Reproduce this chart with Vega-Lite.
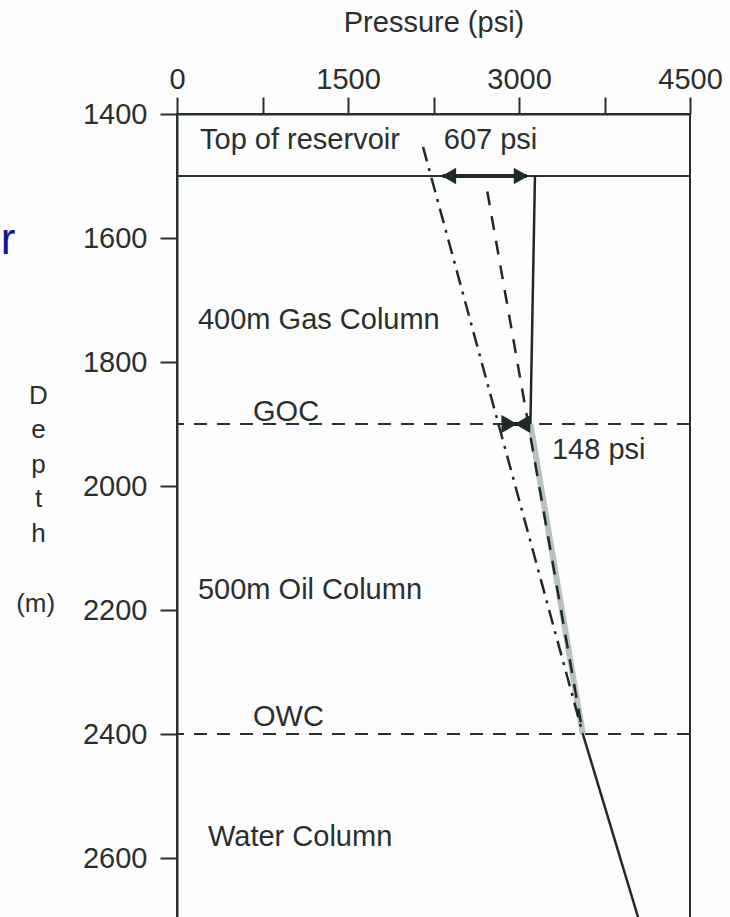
{
  "$schema": "https://vega.github.io/schema/vega-lite/v6.json",
  "autosize": {"type": "none"},
  "width": 513,
  "height": 806,
  "padding": {"left": 177, "top": 114, "right": 40, "bottom": 0},
  "background": "#fdfdfd",
  "config": {
    "font": "Liberation Sans",
    "view": {"stroke": "#26302e", "strokeWidth": 2},
    "axis": {"grid": false, "domainColor": "#26302e", "domainWidth": 2, "tickColor": "#26302e", "tickWidth": 2, "labelColor": "#2a2f2e", "titleColor": "#2a2f2e", "labelFontSize": 29, "titleFontSize": 29, "labelFont": "Liberation Sans", "titleFont": "Liberation Sans", "titleFontWeight": "normal", "labelFlush": false}
  },
  "datasets": {
    "profile": [
      {"seg": "gas", "pressure": 3140, "depth": 1500},
      {"seg": "gas", "pressure": 3100, "depth": 1900},
      {"seg": "water", "pressure": 3560, "depth": 2400},
      {"seg": "water", "pressure": 4052, "depth": 2700}
    ],
    "oil": [
      {"pressure": 3100, "depth": 1900},
      {"pressure": 3560, "depth": 2400}
    ],
    "oilext": [
      {"pressure": 2722, "depth": 1525},
      {"pressure": 3560, "depth": 2400}
    ],
    "waterext": [
      {"pressure": 2158, "depth": 1453},
      {"pressure": 3560, "depth": 2400}
    ],
    "contacts": [
      {"name": "GOC", "depth": 1900},
      {"name": "OWC", "depth": 2400}
    ],
    "arrows": [
      {"label": "607 psi", "p1": 2330, "p2": 3070, "depth": 1500},
      {"label": "148 psi", "p1": 2860, "p2": 3070, "depth": 1900}
    ],
    "heads": [
      {"pressure": 2385, "depth": 1500, "shape": "triangle-left", "sz": 280},
      {"pressure": 3018, "depth": 1500, "shape": "triangle-right", "sz": 280},
      {"pressure": 2915, "depth": 1900, "shape": "triangle-right", "sz": 330},
      {"pressure": 3030, "depth": 1900, "shape": "triangle-left", "sz": 330}
    ],
    "labels": [
      {"text": "Top of reservoir", "pressure": 202, "depth": 1442},
      {"text": "607 psi", "pressure": 2340, "depth": 1442},
      {"text": "400m Gas Column", "pressure": 184, "depth": 1732},
      {"text": "GOC", "pressure": 667, "depth": 1881},
      {"text": "148 psi", "pressure": 3289, "depth": 1942},
      {"text": "500m Oil Column", "pressure": 184, "depth": 2168},
      {"text": "OWC", "pressure": 667, "depth": 2373},
      {"text": "Water Column", "pressure": 272, "depth": 2566}
    ],
    "unit": [
      {"text": "(m)", "pressure": -1240, "depth": 2190}
    ],
    "stray": [
      {"text": "r", "pressure": -1545, "depth": 1605}
    ]
  },
  "layer": [
    {
      "data": {"values": [{"depth": 1500}]},
      "mark": {"type": "rule", "color": "#26302e", "strokeWidth": 2},
      "encoding": {
        "y": {"field": "depth", "type": "quantitative", "scale": {"domain": [1400, 2700], "reverse": true, "nice": false, "zero": false},
          "axis": {"orient": "left", "values": [1400, 1600, 1800, 2000, 2200, 2400, 2600], "format": "d", "tickSize": 17, "labelPadding": 13,
            "title": ["D", "e", "p", "t", "h"], "titleAngle": 0, "titleAlign": "center", "titleBaseline": "top", "titleLineHeight": 34.5, "titleFontSize": 26, "titleX": -139, "titleY": 268}}
      }
    },
    {
      "data": {"name": "contacts"},
      "mark": {"type": "rule", "color": "#26302e", "strokeWidth": 2, "strokeDash": [13, 10]},
      "encoding": {"y": {"field": "depth", "type": "quantitative"}}
    },
    {
      "data": {"name": "oil"},
      "mark": {"type": "line", "color": "#b9c1c3", "strokeWidth": 6},
      "encoding": {
        "x": {"field": "pressure", "type": "quantitative", "scale": {"domain": [0, 4500], "nice": false},
          "axis": {"orient": "top", "values": [0, 750, 1500, 2250, 3000, 3750, 4500], "labelExpr": "datum.value % 1500 === 0 ? datum.label : ''", "format": "d", "tickSize": 17, "labelPadding": 3, "title": "Pressure (psi)", "titleY": -83, "titleBaseline": "alphabetic"}},
        "y": {"field": "depth", "type": "quantitative"}
      }
    },
    {
      "data": {"name": "profile"},
      "mark": {"type": "line", "color": "#1f2a28", "strokeWidth": 2.5},
      "encoding": {
        "x": {"field": "pressure", "type": "quantitative"},
        "y": {"field": "depth", "type": "quantitative"},
        "detail": {"field": "seg"}
      }
    },
    {
      "data": {"name": "oilext"},
      "mark": {"type": "line", "color": "#1f2a28", "strokeWidth": 2.5, "strokeDash": [14, 11]},
      "encoding": {
        "x": {"field": "pressure", "type": "quantitative"},
        "y": {"field": "depth", "type": "quantitative"}
      }
    },
    {
      "data": {"name": "waterext"},
      "mark": {"type": "line", "color": "#1f2a28", "strokeWidth": 2.5, "strokeDash": [15, 7, 3, 7]},
      "encoding": {
        "x": {"field": "pressure", "type": "quantitative"},
        "y": {"field": "depth", "type": "quantitative"}
      }
    },
    {
      "data": {"name": "arrows"},
      "mark": {"type": "rule", "color": "#1f2a28", "strokeWidth": 4},
      "encoding": {
        "x": {"field": "p1", "type": "quantitative"},
        "x2": {"field": "p2"},
        "y": {"field": "depth", "type": "quantitative"}
      }
    },
    {
      "data": {"name": "heads"},
      "mark": {"type": "point", "filled": true, "color": "#1f2a28", "opacity": 1},
      "encoding": {
        "x": {"field": "pressure", "type": "quantitative"},
        "y": {"field": "depth", "type": "quantitative"},
        "shape": {"field": "shape", "type": "nominal", "scale": null},
        "size": {"field": "sz", "type": "quantitative", "scale": null}
      }
    },
    {
      "data": {"name": "labels"},
      "mark": {"type": "text", "align": "left", "baseline": "middle", "fontSize": 29, "color": "#2a2f2e", "font": "Liberation Sans"},
      "encoding": {
        "x": {"field": "pressure", "type": "quantitative"},
        "y": {"field": "depth", "type": "quantitative"},
        "text": {"field": "text"}
      }
    },
    {
      "data": {"name": "unit"},
      "mark": {"type": "text", "align": "center", "baseline": "middle", "fontSize": 26, "color": "#2a2f2e", "font": "Liberation Sans"},
      "encoding": {
        "x": {"field": "pressure", "type": "quantitative"},
        "y": {"field": "depth", "type": "quantitative"},
        "text": {"field": "text"}
      }
    },
    {
      "data": {"name": "stray"},
      "mark": {"type": "text", "align": "left", "baseline": "middle", "fontSize": 44, "color": "#12129c", "font": "Liberation Sans"},
      "encoding": {
        "x": {"field": "pressure", "type": "quantitative"},
        "y": {"field": "depth", "type": "quantitative"},
        "text": {"field": "text"}
      }
    }
  ]
}
